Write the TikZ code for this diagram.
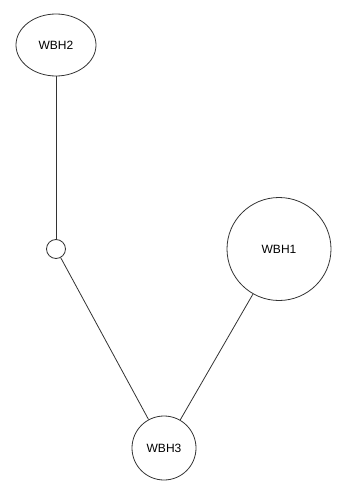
\documentclass[tikz,border=0pt]{standalone}
\usepackage{fontspec}
\setmainfont{Liberation Sans}
\usetikzlibrary{shapes.geometric}
\begin{document}
\begin{tikzpicture}[x=1pt,y=-1pt]
			\definecolor{lineink}{rgb}{0.2,0.2,0.2}
			\tikzset{wbh/.style={ellipse,draw=lineink,line width=0.8pt,inner sep=0pt,font=\fontsize{12}{14}\selectfont},
				link/.style={draw=lineink,line width=0.8pt}}
				\useasboundingbox (0,0) rectangle (339,481);
				\node [wbh,minimum width=80,minimum height=62] (wbh2) at (56,45) {WBH2};
				\node [circle,draw=lineink,line width=0.8pt,inner sep=0pt,minimum size=19] (junc) at (56,249) {};
				\node [wbh,minimum width=104,minimum height=103] (wbh1) at (279,249) {WBH1};
				\node [wbh,minimum width=64,minimum height=64] (wbh3) at (164,448) {WBH3};
			
				\draw [link] (wbh2)-- (junc);
				\draw [link] (junc)-- (wbh3);
				\draw [link] (wbh1)-- (wbh3);
		\end{tikzpicture}
\end{document}
